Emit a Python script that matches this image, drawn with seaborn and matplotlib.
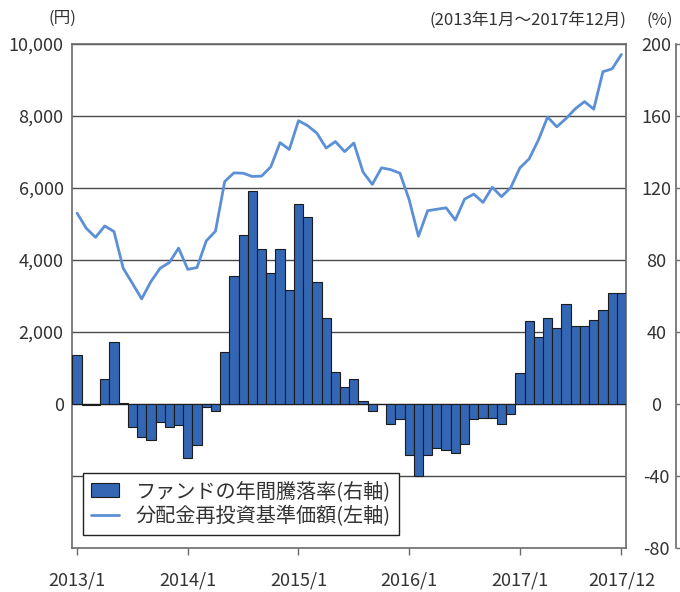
import numpy as np
import pandas as pd
import matplotlib
matplotlib.use("Agg")
import matplotlib.pyplot as plt
import seaborn as sns
from matplotlib.patches import Patch
from matplotlib.lines import Line2D

# monthly data, 2013/1 - 2017/12
months = [f"{y}/{m}" for y in range(2013, 2018) for m in range(1, 13)]

# annual return of the fund (%), right axis
annual_return = [
    27, -0.5, -0.5, 14, 34.5, 0.5, -13, -18.5, -20, -10, -12.5, -11.5,
    -30, -22.5, -1.5, -4, 29, 71, 94, 118.5, 86, 73, 86, 63.5,
    111, 104, 67.5, 48, 18, 9.5, 14, 1.5, -4, 0, -11, -8.5,
    -28.5, -40, -28.5, -24.5, -25.5, -27, -22, -8.5, -8, -8, -11, -5.5,
    17.5, 46, 37.5, 48, 42, 55.5, 43.5, 43.5, 46.5, 52.5, 61.5, 61.5,
]

# NAV with dividends reinvested (yen), left axis
nav = [
    5300, 4880, 4630, 4945, 4790, 3770, 3350, 2920, 3400, 3770, 3930, 4330,
    3740, 3790, 4530, 4800, 6180, 6420, 6410, 6320, 6330, 6590, 7260, 7070,
    7870, 7730, 7520, 7110, 7290, 7010, 7250, 6440, 6100, 6560, 6510, 6410,
    5670, 4660, 5370, 5410, 5450, 5110, 5690, 5830, 5600, 6020, 5760, 6010,
    6560, 6810, 7330, 7970, 7700, 7930, 8200, 8400, 8190, 9230, 9310, 9710,
]

tick_pos = [0, 12, 24, 36, 48, 59]
tick_labels = ["2013/1", "2014/1", "2015/1", "2016/1", "2017/1", "2017/12"]
left_ticks = [-2000, 0, 2000, 4000, 6000, 8000, 10000]
left_labels = ["", "0", "2,000", "4,000", "6,000", "8,000", "10,000"]
right_ticks = [-80, -40, 0, 40, 80, 120, 160, 200]

df = pd.DataFrame({"month": months, "ret": annual_return, "nav": nav})
df["pos"] = range(len(df))

sns.set_style("white")
plt.rcParams["font.family"] = ["Noto Sans CJK JP", "DejaVu Sans"]

bar_color = "#3366b3"
line_color = "#5b8fd6"
grid_color = "#4a4a4a"
spine_color = "#6a6a6a"

fig = plt.figure(figsize=(6.8, 5.92), dpi=100)
ax = fig.add_axes([0.1059, 0.0743, 0.8147, 0.8514])
ax2 = ax.twinx()

sns.lineplot(data=df, x="pos", y="nav", ax=ax, color=line_color, linewidth=2)
sns.barplot(data=df, x="month", y="ret", ax=ax2, color=bar_color, saturation=1,
            width=1, edgecolor="#1c1c1c", linewidth=0.8)

ax.set_ylim(-4000, 10000)
ax2.set_ylim(-80, 200)
ax.set_xlim(-0.55, 59.5)

ax.set_yticks(left_ticks)
ax.set_yticklabels(left_labels, fontsize=13, color="#333333")
ax.grid(axis="y", color=grid_color, linewidth=1)
ax.grid(axis="x", visible=False)
ax.tick_params(axis="y", length=0, pad=6)

ax.set_xticks(tick_pos)
ax.set_xticklabels(tick_labels, fontsize=13, color="#333333")
ax.tick_params(axis="x", direction="out", length=5, width=1, color=spine_color,
               pad=12, bottom=True)
ax.set_xlabel("")
ax.set_ylabel("")
ax2.set_xlabel("")
ax2.set_ylabel("")

for s in ax.spines.values():
    s.set_color(spine_color)
    s.set_linewidth(1.2)
for name in ["left", "top", "bottom"]:
    ax2.spines[name].set_visible(False)
ax2.spines["right"].set_position(("outward", 36))
ax2.spines["right"].set_color(spine_color)
ax2.spines["right"].set_linewidth(1.2)

ax2.set_yticks(right_ticks)
ax2.set_yticklabels([str(v) for v in right_ticks], fontsize=13, color="#333333")
ax2.tick_params(axis="y", direction="out", length=4, width=1, color=spine_color,
                pad=-18)
plt.setp(ax2.get_yticklabels(), ha="center")

handles = [
    Patch(facecolor=bar_color, edgecolor="#1c1c1c", linewidth=0.8),
    Line2D([0], [0], color=line_color, linewidth=2),
]
labels = ["ファンドの年間騰落率(右軸)", "分配金再投資基準価額(左軸)"]
leg = ax2.legend(handles, labels, loc="lower left", bbox_to_anchor=(0.02, 0.026),
                 borderaxespad=0, fontsize=14.5, frameon=True, fancybox=False,
                 framealpha=1, edgecolor="#222222", handlelength=1.4,
                 handletextpad=0.8, borderpad=0.4, labelspacing=0.2)
leg.get_frame().set_linewidth(1)
for t in leg.get_texts():
    t.set_color("#333333")

fig.text(62 / 680, 1 - 18 / 592, "(円)", ha="center", va="center",
         fontsize=12, color="#333333")
fig.text(660 / 680, 1 - 20 / 592, "(%)", ha="center", va="center",
         fontsize=12, color="#333333")
fig.text(626 / 680, 1 - 20 / 592, "(2013年1月～2017年12月)", ha="right",
         va="center", fontsize=12, color="#333333")

fig.savefig("out.png", dpi=100)
